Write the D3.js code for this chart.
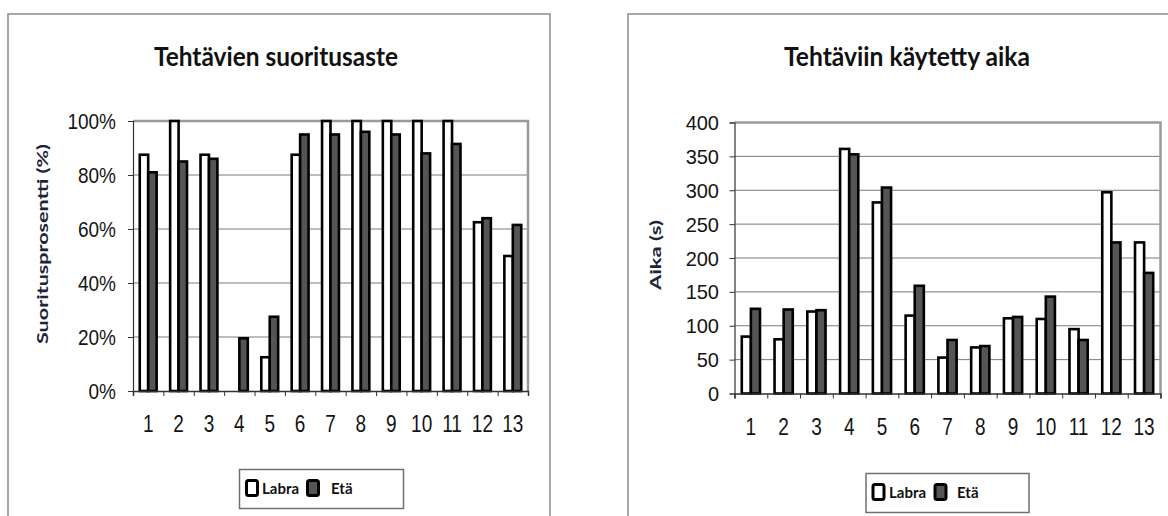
<!DOCTYPE html>
<html>
<head>
<meta charset="utf-8">
<script src="https://cdn.jsdelivr.net/npm/d3@7"></script>
<style>
  html, body { margin: 0; padding: 0; background: #fff; }
  svg { display: block; }
</style>
</head>
<body>
<div id="chart"></div>
<script>
// task numbers on the x axis
const tasks = ['1', '2', '3', '4', '5', '6', '7', '8', '9', '10', '11', '12', '13'];
const seriesNames = ['Labra', 'Etä'];

// completion rate (%)
const rateLabra = [87.5, 100, 87.5, 0, 12.5, 87.5, 100, 100, 100, 100, 100, 62.5, 50];
const rateEta = [81, 85, 86, 19.5, 27.5, 95, 95, 96, 95, 88, 91.5, 64, 61.5];
const rateTicks = [0, 20, 40, 60, 80, 100];

// time used (s)
const timeLabra = [84, 80, 121, 361, 282, 115, 53, 68, 111, 110, 95, 297, 223];
const timeEta = [125, 124, 123, 353, 304, 159, 79, 70, 113, 143, 79, 223, 178];
const timeTicks = [0, 50, 100, 150, 200, 250, 300, 350, 400];

const W = 1168, H = 516;
const fills = ['#ffffff', '#555555'];

const svg = d3.select('#chart').append('svg')
  .attr('width', W)
  .attr('height', H);

// text that is a bit taller than the font (the source picture is stretched)
function tallText(g, x, y, s, str) {
  return g.append('text')
    .attr('transform', `translate(${x},${y}) scale(1,${s})`)
    .text(str);
}

function drawChart(cfg) {
  const g = svg.append('g');

  // outer chart frame (runs past the bottom of the window)
  g.append('rect')
    .attr('x', cfg.frame[0]).attr('y', cfg.frame[1])
    .attr('width', cfg.frame[2]).attr('height', 700)
    .attr('fill', 'none')
    .attr('stroke', '#8a8a8a')
    .attr('stroke-width', 1.5);

  // title
  g.append('text')
    .attr('x', cfg.titleX).attr('y', 66)
    .attr('text-anchor', 'middle')
    .attr('textLength', cfg.titleLen)
    .attr('lengthAdjust', 'spacingAndGlyphs')
    .style('font-family', 'Lato, "Open Sans", sans-serif')
    .style('font-weight', 700)
    .style('font-size', '27px')
    .style('fill', '#111')
    .text(cfg.title);

  const p = cfg.plot;
  const x0 = d3.scaleBand().domain(tasks).range([p.left, p.right]).paddingInner(0).paddingOuter(0);
  const x1 = d3.scaleBand().domain(seriesNames).range([0, x0.bandwidth()]).paddingInner(0).paddingOuter(0.8);
  const y = d3.scaleLinear().domain([0, cfg.max]).range([p.bottom, p.top]);

  // gridlines
  g.append('g').selectAll('line')
    .data(cfg.ticks.slice(1, -1))
    .join('line')
    .attr('x1', p.left).attr('x2', p.right)
    .attr('y1', d => y(d)).attr('y2', d => y(d))
    .attr('stroke', '#7a7a7a')
    .attr('stroke-width', 1);

  // plot area top and right borders
  g.append('path')
    .attr('d', `M${p.left},${y(cfg.max)}H${p.right}V${p.bottom}`)
    .attr('fill', 'none')
    .attr('stroke', '#9a9a9a')
    .attr('stroke-width', 2.5);

  // bars
  const rows = tasks.map((t, i) => ({ task: t, values: [cfg.a[i], cfg.b[i]] }));
  g.append('g').selectAll('g')
    .data(rows)
    .join('g')
    .attr('transform', d => `translate(${x0(d.task)},0)`)
    .selectAll('rect')
    .data(d => d.values.map((v, k) => ({ v, k })))
    .join('rect')
    .attr('x', d => x1(seriesNames[d.k]))
    .attr('width', x1.bandwidth())
    .attr('y', d => y(d.v))
    .attr('height', d => p.bottom - y(d.v))
    .attr('fill', d => fills[d.k])
    .attr('stroke', '#000')
    .attr('stroke-width', d => d.v > 0 ? 2.6 : 0);

  // y axis
  const yAxis = d3.axisLeft(y).tickValues(cfg.ticks).tickSize(5).tickFormat('');
  const ya = g.append('g').attr('transform', `translate(${p.left},0)`).call(yAxis);
  ya.select('.domain').attr('stroke', '#333').attr('stroke-width', 1.2);
  ya.selectAll('.tick line').attr('stroke', '#333');

  const yl = g.append('g')
    .style('font-family', '"Liberation Sans", Arial, sans-serif')
    .style('font-size', cfg.yFont + 'px')
    .style('fill', '#141414')
    .attr('text-anchor', 'end');
  cfg.ticks.forEach(t => {
    tallText(yl, cfg.yLabelX, y(t), cfg.yStretch, cfg.fmt(t)).attr('dy', '0.36em');
  });

  // x axis: ticks between categories
  const xb = d3.scaleLinear().domain([0, tasks.length]).range([p.left, p.right]);
  const xa = g.append('g').attr('transform', `translate(0,${p.bottom})`)
    .call(d3.axisBottom(xb).ticks(tasks.length).tickSize(5).tickFormat(''));
  xa.select('.domain').attr('stroke', '#333').attr('stroke-width', 1.5);
  xa.selectAll('.tick line').attr('stroke', '#333');

  const xl = g.append('g')
    .style('font-family', '"Liberation Sans", Arial, sans-serif')
    .style('font-size', cfg.xFont + 'px')
    .style('fill', '#141414')
    .attr('text-anchor', 'middle');
  tasks.forEach(t => {
    tallText(xl, x0(t) + x0.bandwidth() / 2, cfg.xBase, cfg.xStretch, t);
  });

  // y axis title
  g.append('text')
    .attr('transform', `translate(${cfg.yTitle[0]},${cfg.yTitle[1]}) rotate(-90)`)
    .attr('text-anchor', 'middle')
    .attr('dy', '0.35em')
    .attr('textLength', cfg.yTitleLen)
    .attr('lengthAdjust', 'spacingAndGlyphs')
    .style('font-family', 'Lato, "Open Sans", sans-serif')
    .style('font-weight', 700)
    .style('font-size', '15px')
    .style('fill', '#1c2438')
    .text(cfg.yLabel);

  // legend
  const L = cfg.legend;
  const lg = g.append('g');
  lg.append('rect')
    .attr('x', L.box[0]).attr('y', L.box[1])
    .attr('width', L.box[2]).attr('height', L.box[3])
    .attr('fill', '#fff')
    .attr('stroke', '#6f6f6f')
    .attr('stroke-width', 1.5);
  seriesNames.forEach((name, k) => {
    lg.append('rect')
      .attr('x', L.sw[k] + 1.5).attr('y', L.swY + 1.5)
      .attr('width', 11).attr('height', 15)
      .attr('rx', 2)
      .attr('fill', fills[k])
      .attr('stroke', '#000')
      .attr('stroke-width', 3);
    lg.append('text')
      .attr('x', L.tx[k]).attr('y', L.swY + 15)
      .style('font-family', 'Lato, "Open Sans", sans-serif')
      .style('font-weight', 700)
      .style('font-size', '15px')
      .style('fill', '#111')
      .text(name);
  });
}

drawChart({
  title: 'Tehtävien suoritusaste',
  titleX: 276, titleLen: 244,
  frame: [8, 14, 542],
  plot: { left: 133, right: 528, top: 121, bottom: 391 },
  a: rateLabra, b: rateEta,
  max: 100, ticks: rateTicks,
  fmt: d => d + '%',
  yFont: 19, yStretch: 1.2, yLabelX: 116,
  xFont: 19, xStretch: 1.3, xBase: 432,
  yLabel: 'Suoritusprosentti (%)', yTitle: [43, 244], yTitleLen: 200,
  legend: { box: [239.5, 469.5, 164, 39], sw: [245, 306], swY: 479, tx: [262, 331] }
});

drawChart({
  title: 'Tehtäviin käytetty aika',
  titleX: 907, titleLen: 246,
  frame: [628, 14, 600],
  plot: { left: 734.5, right: 1160.5, top: 122.5, bottom: 393.5 },
  a: timeLabra, b: timeEta,
  max: 400, ticks: timeTicks,
  fmt: d => String(d),
  yFont: 20, yStretch: 1.05, yLabelX: 719,
  xFont: 19, xStretch: 1.25, xBase: 435,
  yLabel: 'Aika (s)', yTitle: [656, 255], yTitleLen: 70,
  legend: { box: [866, 473.5, 163, 39], sw: [871.5, 933.5], swY: 483, tx: [889, 957] }
});
</script>
</body>
</html>
